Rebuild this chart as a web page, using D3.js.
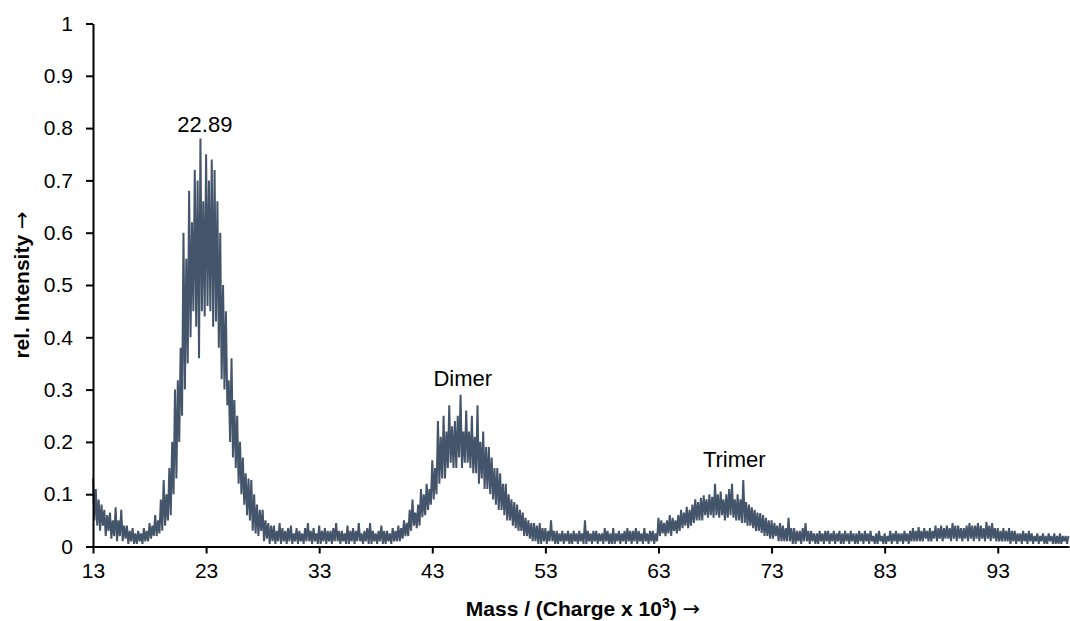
<!DOCTYPE html>
<html>
<head>
<meta charset="utf-8">
<script src="https://cdn.jsdelivr.net/npm/d3@7"></script>
<style>
  html, body { margin: 0; padding: 0; background: #fff; }
  svg { display: block; font-family: "Liberation Sans", Arial, sans-serif; }
</style>
</head>
<body>
<svg id="chart" width="1070" height="621"></svg>
<script>
// ---- data ----
const massStart = 13;       // first sample (Mass / Charge x 10^3)
const massStep = 0.125;     // sample spacing
const intensity = [
  /*13*/ .13,.05,.11,.04,.09,.03,.08,.04,
  /*14*/ .07,.02,.06,.03,.065,.015,.05,.02,
  /*15*/ .075,.01,.05,.02,.07,.01,.04,.015,
  /*16*/ .04,.005,.03,.01,.035,.005,.025,.005,
  /*17*/ .03,.01,.025,.005,.035,.01,.03,.01,
  /*18*/ .045,.015,.04,.02,.06,.02,.05,.025,
  /*19*/ .09,.03,.127,.04,.1,.05,.15,.06,
  /*20*/ .2,.1,.3,.13,.318,.2,.38,.25,
  /*21*/ .6,.3,.55,.35,.68,.4,.62,.45,
  /*22*/ .72,.42,.7,.36,.78,.45,.66,.44,
  /*23*/ .75,.46,.7,.45,.74,.42,.72,.43,
  /*24*/ .66,.38,.6,.32,.5,.3,.45,.27,
  /*25*/ .318,.2,.36,.17,.28,.15,.25,.12,
  /*26*/ .2,.1,.17,.08,.14,.06,.13,.05,
  /*27*/ .127,.03,.1,.025,.08,.02,.07,.03,
  /*28*/ .07,.01,.05,.015,.045,.005,.04,.01,
  /*29*/ .04,.005,.03,.01,.045,.005,.035,.01,
  /*30*/ .03,.005,.035,.01,.04,.005,.025,.01,
  /*31*/ .035,.005,.03,.01,.025,.005,.035,.01,
  /*32*/ .045,.01,.03,.005,.035,.01,.025,.005,
  /*33*/ .04,.005,.03,.01,.035,.005,.03,.01,
  /*34*/ .03,.005,.035,.01,.045,.01,.03,.005,
  /*35*/ .03,.01,.025,.005,.04,.005,.03,.01,
  /*36*/ .035,.005,.03,.01,.045,.01,.025,.005,
  /*37*/ .03,.01,.035,.005,.045,.005,.03,.01,
  /*38*/ .025,.005,.03,.01,.04,.005,.03,.005,
  /*39*/ .03,.01,.025,.005,.035,.01,.03,.01,
  /*40*/ .04,.01,.035,.015,.05,.02,.045,.02,
  /*41*/ .07,.03,.09,.04,.065,.035,.08,.04,
  /*42*/ .11,.056,.1,.06,.12,.07,.11,.08,
  /*43*/ .165,.09,.15,.1,.24,.12,.21,.13,
  /*44*/ .25,.13,.22,.15,.27,.16,.23,.15,
  /*45*/ .24,.15,.25,.17,.29,.15,.22,.16,
  /*46*/ .26,.16,.22,.15,.25,.14,.21,.14,
  /*47*/ .27,.12,.2,.13,.22,.11,.19,.11,
  /*48*/ .19,.1,.17,.09,.15,.08,.15,.07,
  /*49*/ .14,.07,.12,.06,.12,.05,.1,.05,
  /*50*/ .09,.04,.085,.035,.08,.03,.07,.03,
  /*51*/ .065,.02,.055,.02,.05,.015,.045,.01,
  /*52*/ .045,.01,.04,.005,.045,.005,.035,.01,
  /*53*/ .035,.005,.03,.01,.05,.01,.03,.005,
  /*54*/ .03,.005,.025,.01,.03,.005,.025,.01,
  /*55*/ .03,.005,.025,.005,.03,.01,.025,.005,
  /*56*/ .03,.01,.025,.005,.05,.005,.03,.01,
  /*57*/ .025,.005,.03,.01,.03,.005,.025,.01,
  /*58*/ .025,.005,.035,.01,.03,.005,.025,.005,
  /*59*/ .035,.005,.025,.01,.03,.005,.025,.01,
  /*60*/ .03,.005,.035,.01,.03,.005,.03,.01,
  /*61*/ .035,.005,.03,.01,.025,.005,.035,.01,
  /*62*/ .025,.005,.03,.01,.03,.005,.025,.01,
  /*63*/ .055,.02,.05,.025,.045,.02,.05,.025,
  /*64*/ .06,.02,.055,.03,.05,.025,.06,.03,
  /*65*/ .07,.035,.065,.04,.076,.035,.07,.04,
  /*66*/ .08,.045,.09,.05,.085,.05,.093,.05,
  /*67*/ .098,.06,.09,.055,.1,.06,.095,.055,
  /*68*/ .12,.06,.1,.055,.105,.06,.09,.05,
  /*69*/ .1,.055,.11,.06,.12,.055,.09,.05,
  /*70*/ .1,.05,.09,.045,.127,.045,.085,.04,
  /*71*/ .08,.04,.075,.035,.07,.03,.065,.03,
  /*72*/ .064,.026,.06,.02,.055,.02,.05,.015,
  /*73*/ .05,.015,.045,.02,.04,.01,.045,.01,
  /*74*/ .04,.01,.035,.01,.055,.01,.035,.005,
  /*75*/ .035,.005,.03,.01,.03,.005,.035,.01,
  /*76*/ .045,.01,.03,.005,.03,.01,.025,.005,
  /*77*/ .025,.005,.03,.01,.025,.005,.03,.01,
  /*78*/ .03,.005,.025,.01,.03,.005,.025,.01,
  /*79*/ .03,.005,.025,.005,.03,.01,.025,.005,
  /*80*/ .03,.01,.025,.005,.025,.005,.03,.01,
  /*81*/ .025,.005,.03,.01,.025,.005,.03,.01,
  /*82*/ .02,.005,.025,.005,.03,.01,.02,.005,
  /*83*/ .025,.005,.02,.01,.03,.005,.025,.01,
  /*84*/ .03,.005,.025,.01,.025,.005,.03,.01,
  /*85*/ .025,.005,.03,.01,.035,.01,.03,.01,
  /*86*/ .037,.01,.03,.01,.035,.015,.03,.01,
  /*87*/ .035,.01,.03,.015,.04,.01,.035,.015,
  /*88*/ .04,.01,.035,.015,.04,.015,.035,.01,
  /*89*/ .045,.015,.04,.01,.04,.015,.035,.01,
  /*90*/ .035,.015,.04,.01,.045,.015,.04,.01,
  /*91*/ .04,.015,.045,.01,.04,.015,.035,.01,
  /*92*/ .047,.015,.04,.01,.045,.015,.035,.01,
  /*93*/ .035,.01,.03,.01,.035,.01,.03,.01,
  /*94*/ .035,.005,.03,.01,.03,.005,.025,.01,
  /*95*/ .025,.005,.03,.01,.025,.005,.03,.01,
  /*96*/ .025,.005,.02,.01,.025,.005,.02,.01,
  /*97*/ .025,.005,.02,.005,.025,.01,.02,.005,
  /*98*/ .025,.005,.02,.005,.025,.005,.02,.01,
  /*99*/ .02,.005,.02
];
const xTicks = [13, 23, 33, 43, 53, 63, 73, 83, 93];
const yTicks = [0, 0.1, 0.2, 0.3, 0.4, 0.5, 0.6, 0.7, 0.8, 0.9, 1];
const yTickLabels = ["0", "0.1", "0.2", "0.3", "0.4", "0.5", "0.6", "0.7", "0.8", "0.9", "1"];
const annotations = [
  { text: "22.89", mass: 22.89, value: 0.7925 },
  { text: "Dimer", mass: 45.7, value: 0.307 },
  { text: "Trimer", mass: 69.7, value: 0.1526 }
];
const xDomain = [13, 99.3];
const yDomain = [0, 1];

// ---- chart ----
const svg = d3.select("#chart");
const margin = { left: 93, right: 1, top: 23.5, bottom: 74.5 };
const W = 1070, H = 621;

const x = d3.scaleLinear().domain(xDomain).range([margin.left, W - margin.right]);
const y = d3.scaleLinear().domain(yDomain).range([H - margin.bottom, margin.top]);

const points = intensity.map((v, i) => [massStart + i * massStep, v]);

const line = d3.line().x(d => x(d[0])).y(d => y(d[1]));

svg.append("path")
  .datum(points)
  .attr("d", line)
  .attr("fill", "none")
  .attr("stroke", "#44546a")
  .attr("stroke-width", 2)
  .attr("stroke-linejoin", "miter")
  .attr("stroke-miterlimit", 2);

// x axis
const xAxis = svg.append("g")
  .attr("transform", `translate(0,${y(0)})`)
  .call(d3.axisBottom(x).tickValues(xTicks).tickSize(7).tickPadding(10).tickSizeOuter(0).tickFormat(d3.format("d")));
// y axis
const yAxis = svg.append("g")
  .attr("transform", `translate(${x(13)},0)`)
  .call(d3.axisLeft(y).tickValues(yTicks).tickSize(7).tickPadding(13).tickSizeOuter(0)
    .tickFormat((d, i) => yTickLabels[i]));

[xAxis, yAxis].forEach(g => {
  g.select(".domain").attr("stroke", "#000").attr("stroke-width", 2);
  g.selectAll(".tick line").attr("stroke", "#000").attr("stroke-width", 2);
  g.selectAll(".tick text").attr("fill", "#000").style("font-size", "21px")
    .style("font-family", "'Liberation Sans', Arial, sans-serif");
});

// annotations
svg.selectAll("text.ann")
  .data(annotations)
  .enter().append("text")
  .attr("class", "ann")
  .attr("x", d => x(d.mass))
  .attr("y", d => y(d.value))
  .attr("text-anchor", "middle")
  .style("font-size", "22px")
  .attr("fill", "#000")
  .text(d => d.text);

// axis titles
svg.append("text")
  .attr("x", 583)
  .attr("y", 616)
  .attr("text-anchor", "middle")
  .style("font-size", "21px")
  .style("font-weight", "bold")
  .attr("fill", "#000")
  .html('Mass / (Charge x 10<tspan dy="-8" font-size="14">3</tspan><tspan dy="8">) </tspan><tspan font-family="DejaVu Sans" font-weight="normal">→</tspan>');

svg.append("text")
  .attr("transform", `translate(29,285) rotate(-90)`)
  .attr("text-anchor", "middle")
  .style("font-size", "21px")
  .style("font-weight", "bold")
  .attr("fill", "#000")
  .html('rel. Intensity <tspan font-family="DejaVu Sans" font-weight="normal">→</tspan>');
</script>
</body>
</html>
